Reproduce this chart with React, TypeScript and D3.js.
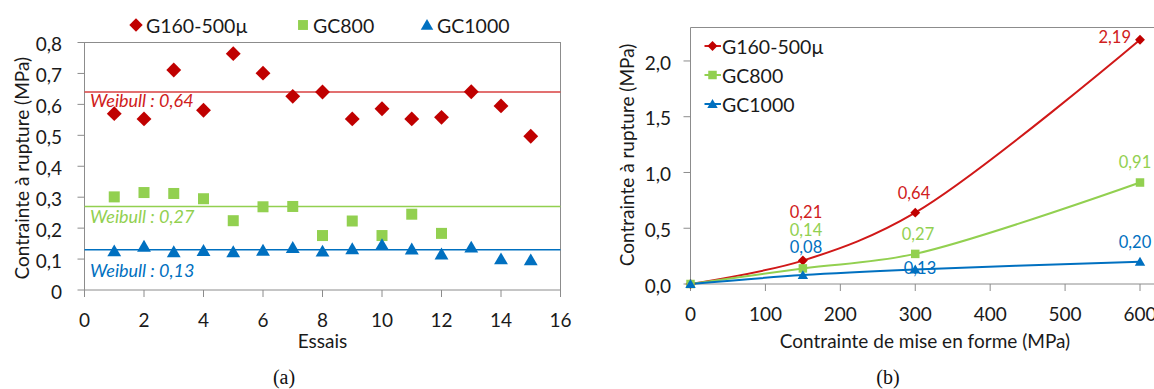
import React from "react";
import * as d3 from "d3";

const essais = [1, 2, 3, 4, 5, 6, 7, 8, 9, 10, 11, 12, 13, 14, 15];
const g160Essais = [0.570, 0.553, 0.711, 0.581, 0.764, 0.701, 0.626, 0.640, 0.553, 0.586, 0.553, 0.558, 0.641, 0.595, 0.497];
const gc800Essais = [0.301, 0.315, 0.312, 0.295, 0.224, 0.269, 0.270, 0.176, 0.223, 0.176, 0.245, 0.183];
const gc1000Essais = [0.126, 0.141, 0.123, 0.127, 0.123, 0.128, 0.137, 0.125, 0.133, 0.146, 0.132, 0.116, 0.138, 0.100, 0.097];
const weibull = [0.64, 0.27, 0.13];
const weibullLabels = ["Weibull : 0,64", "Weibull : 0,27", "Weibull : 0,13"];

const miseEnForme = [0, 150, 300, 600];
const g160Rupture = [0, 0.21, 0.64, 2.19];
const gc800Rupture = [0, 0.14, 0.27, 0.91];
const gc1000Rupture = [0, 0.08, 0.13, 0.20];

const seriesNames = ["G160-500µ", "GC800", "GC1000"];
const leftYTicks = [0, 0.1, 0.2, 0.3, 0.4, 0.5, 0.6, 0.7, 0.8];
const leftXTicks = [0, 2, 4, 6, 8, 10, 12, 14, 16];
const rightYTicks = [0, 0.5, 1.0, 1.5, 2.0];
const rightXTicks = [0, 100, 200, 300, 400, 500, 600];

const RED = "#C00000";
const REDLINE = "#D01818";
const REDTEXT = "#D02020";
const GREEN = "#92D050";
const BLUE = "#0070C0";
const colors = [RED, GREEN, BLUE];
const lineColors = [REDLINE, GREEN, BLUE];
const textColors = [REDTEXT, GREEN, BLUE];
const FONT = "Lato, 'Open Sans', sans-serif";
const SERIF = "'Liberation Serif', 'DejaVu Serif', serif";
const AXIS = "#8C8C8C";
const TXT = "#1a1a1a";
const FS = 19;

const fmt = (v: number, dec: number) => v.toFixed(dec).replace(".", ",");

function Marker({ type, x, y, s, color }: { type: number; x: number; y: number; s: number; color: string }) {
  if (type === 0) {
    const r = s * 0.62;
    return <path d={`M${x},${y - r}L${x + r},${y}L${x},${y + r}L${x - r},${y}Z`} fill={color} />;
  }
  if (type === 1) {
    const h = s / 2;
    return <rect x={x - h} y={y - h} width={s} height={s} fill={color} />;
  }
  const h = s * 0.55;
  return <path d={`M${x},${y - h}L${x + h * 1.05},${y + h * 0.8}L${x - h * 1.05},${y + h * 0.8}Z`} fill={color} />;
}

function LeftChart() {
  const x = d3.scaleLinear().domain([0, 16]).range([84.5, 560.5]);
  const y = d3.scaleLinear().domain([0, 0.8]).range([290, 42.5]);
  const data = [g160Essais, gc800Essais, gc1000Essais];
  const sizes = [12, 11, 12];
  const wLabelY = [107, 223, 277];
  const legendX = [136, 303, 427];
  return (
    <g>
      <rect x={x(0)} y={y(0.8)} width={x(16) - x(0)} height={y(0) - y(0.8)} fill="none" stroke={AXIS} strokeWidth={1} />
      {leftYTicks.map((t) => (
        <g key={"ly" + t}>
          <line x1={x(0) - 7} x2={x(0)} y1={y(t)} y2={y(t)} stroke={AXIS} />
          <text x={62} y={y(t) + 2} dy="0.35em" textAnchor="end" fontSize={FS} fill={TXT}>
            {t === 0 ? "0" : fmt(t, 1)}
          </text>
        </g>
      ))}
      {leftXTicks.map((t) => (
        <g key={"lx" + t}>
          <line x1={x(t)} x2={x(t)} y1={y(0)} y2={y(0) + 7} stroke={AXIS} />
          <text x={x(t)} y={327} textAnchor="middle" fontSize={FS} fill={TXT}>
            {t}
          </text>
        </g>
      ))}
      <text x={x(8)} y={348} textAnchor="middle" fontSize={FS} fill={TXT}>Essais</text>
      <text transform={`translate(29,${y(0.4) + 2}) rotate(-90)`} textAnchor="middle" fontSize={FS} fill={TXT}>
        Contrainte à rupture (MPa)
      </text>
      {weibull.map((w, i) => (
        <g key={"w" + i}>
          <line x1={x(0)} x2={x(16)} y1={y(w)} y2={y(w)} stroke={i === 0 ? "#D84040" : lineColors[i]} strokeWidth={1.5} />
          <text x={90} y={wLabelY[i]} fontSize={18} fontStyle="italic" fill={textColors[i]}>
            {weibullLabels[i]}
          </text>
        </g>
      ))}
      {data.map((arr, si) =>
        arr.map((v, i) => <Marker key={si + "-" + i} type={si} x={x(essais[i])} y={y(v)} s={sizes[si]} color={colors[si]} />)
      )}
      {seriesNames.map((n, i) => (
        <g key={"lg" + n}>
          <Marker type={i} x={legendX[i]} y={25} s={sizes[i] * 0.9} color={colors[i]} />
          <text x={legendX[i] + 10} y={26} dy="0.35em" fontSize={19.5} fill={TXT}>{n}</text>
        </g>
      ))}
      <text x={284} y={384} textAnchor="middle" fontSize={20} fontFamily={SERIF} fill="#111">
        (a)
      </text>
    </g>
  );
}

function RightChart() {
  const x = d3.scaleLinear().domain([0, 600]).range([690.5, 1140]);
  const y = d3.scaleLinear().domain([0, 2.3]).range([284, 27.5]);
  const data = [g160Rupture, gc800Rupture, gc1000Rupture];
  const line = d3
    .line<number>()
    .x((_, i) => x(miseEnForme[i]))
    .y((d) => y(d))
    .curve(d3.curveCatmullRom.alpha(0.5));
  const sizes = [8, 8.5, 9];
  const labelPos: [number, number, number][][] = [
    [[0, 0, 0], [806, 218, 0], [914, 199, 0], [1131, 43, 1]],
    [[0, 0, 0], [806, 236, 0], [918, 240, 0], [1135, 168, 0]],
    [[0, 0, 0], [806, 253, 0], [920, 274, 0], [1135, 248, 0]],
  ];
  const legendY = [46, 75, 104];
  return (
    <g>
      <line x1={x(0)} x2={1160} y1={y(2.3)} y2={y(2.3)} stroke={AXIS} />
      <line x1={x(0)} x2={x(0)} y1={y(2.3)} y2={y(0)} stroke={AXIS} />
      <line x1={x(0)} x2={1160} y1={y(0)} y2={y(0)} stroke={AXIS} />
      {rightYTicks.map((t) => (
        <g key={"ry" + t}>
          <line x1={x(0) - 7} x2={x(0)} y1={y(t)} y2={y(t)} stroke={AXIS} />
          <text x={671} y={y(t) + 2} dy="0.35em" textAnchor="end" fontSize={FS} fill={TXT}>
            {fmt(t, 1)}
          </text>
        </g>
      ))}
      {rightXTicks.map((t) => (
        <g key={"rx" + t}>
          <line x1={x(t)} x2={x(t)} y1={y(0)} y2={y(0) + 7} stroke={AXIS} />
          <text x={x(t)} y={321} textAnchor="middle" fontSize={FS} fill={TXT}>
            {t}
          </text>
        </g>
      ))}
      <text x={925} y={348} textAnchor="middle" fontSize={FS} fill={TXT}>
        Contrainte de mise en forme (MPa)
      </text>
      <text transform={`translate(634,155) rotate(-90)`} textAnchor="middle" fontSize={FS} fill={TXT}>
        Contrainte à rupture (MPa)
      </text>
      {data.map((arr, si) => (
        <path key={"p" + si} d={line(arr) || ""} fill="none" stroke={lineColors[si]} strokeWidth={2} />
      ))}
      {data.map((arr, si) =>
        arr.map((v, i) => <Marker key={"m" + si + i} type={si} x={x(miseEnForme[i])} y={y(v)} s={sizes[si]} color={colors[si]} />)
      )}
      {data.map((arr, si) =>
        arr.map((v, i) =>
          i === 0 ? null : (
            <text
              key={"l" + si + i}
              x={labelPos[si][i][0]}
              y={labelPos[si][i][1]}
              textAnchor={labelPos[si][i][2] ? "end" : "middle"}
              fontSize={16.5}
              fill={textColors[si]}
            >
              {fmt(v, 2)}
            </text>
          )
        )
      )}
      {seriesNames.map((n, i) => (
        <g key={"rl" + n}>
          <line x1={704.5} x2={721} y1={legendY[i]} y2={legendY[i]} stroke={lineColors[i]} strokeWidth={2} />
          <Marker type={i} x={712.5} y={legendY[i]} s={sizes[i]} color={colors[i]} />
          <text x={722} y={legendY[i] + 1} dy="0.35em" fontSize={19.5} fill={TXT}>{n}</text>
        </g>
      ))}
      <text x={888} y={384} textAnchor="middle" fontSize={20} fontFamily={SERIF} fill="#111">
        (b)
      </text>
    </g>
  );
}

export default function App() {
  return (
    <svg
      width={1154}
      height={389}
      style={{ position: "absolute", left: 0, top: 0, background: "#fff" }}
      fontFamily={FONT}
    >
      <rect width={1154} height={389} fill="#fff" />
      <LeftChart />
      <RightChart />
    </svg>
  );
}
